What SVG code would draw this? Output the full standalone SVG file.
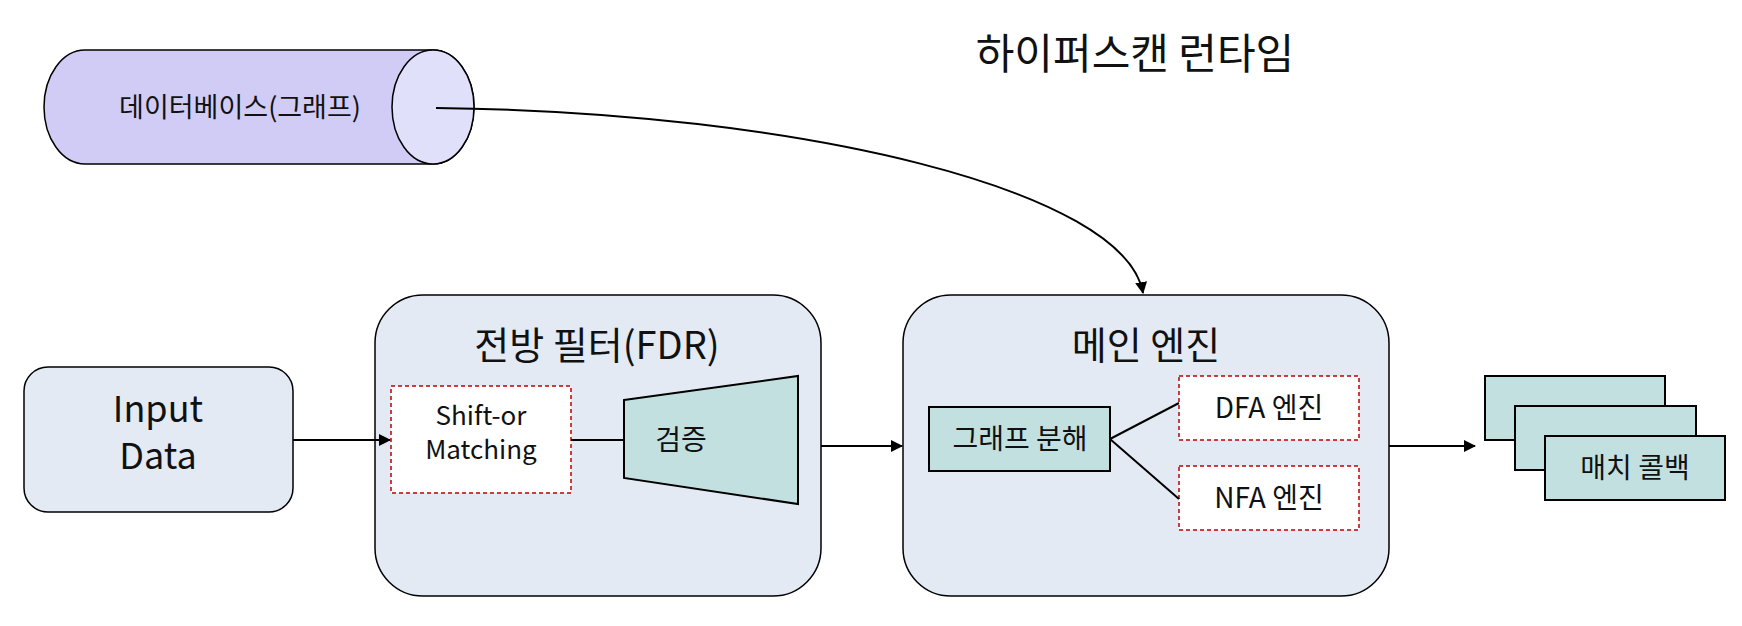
<svg xmlns="http://www.w3.org/2000/svg" width="1742" height="626" viewBox="0 0 1742 626">
<defs>
<marker id="ah" markerWidth="12" markerHeight="12" refX="11" refY="6" orient="auto" markerUnits="userSpaceOnUse" viewBox="0 0 12 12"><path d="M0,0 L12,6 L0,12 z" fill="#000"/></marker>
<style>
text{font-family:"Noto Sans CJK KR","Noto Sans",sans-serif;fill:#111;text-anchor:middle}
.big{fill:#e3eaf4;stroke:#000;stroke-width:1.5}
.teal{fill:#c2e0e0;stroke:#000;stroke-width:2}
.dash{fill:#fff;stroke:#c00000;stroke-width:1.5;stroke-dasharray:4 3}
.ln{stroke:#000;stroke-width:2;fill:none}
</style>
</defs>
<rect width="1742" height="626" fill="#fff"/>
<text x="1135" y="69" font-size="42">하이퍼스캔 런타임</text>
<g id="db">
<path d="M85,50 L433,50 A41,57 0 0 1 433,164 L85,164 A41,57 0 0 1 85,50 z" fill="#d0ccf5" stroke="#000" stroke-width="1.5"/>
<ellipse cx="433" cy="107" rx="41" ry="57" fill="#e0e0fa" stroke="#000" stroke-width="1.5"/>
<text x="240" y="117" font-size="27">데이터베이스(그래프)</text>
</g>
<g id="input">
<rect x="24" y="367" width="269" height="145" rx="24" class="big"/>
<text x="158" y="422" font-size="36">Input</text>
<text x="158" y="469" font-size="36">Data</text>
</g>
<g id="fdr">
<rect x="375" y="295" width="446" height="301" rx="48" class="big"/>
<text x="597" y="359" font-size="38">전방 필터(FDR)</text>
<rect x="391" y="386" width="180" height="107" class="dash"/>
<text x="481" y="425" font-size="26">Shift-or</text>
<text x="481" y="459" font-size="26">Matching</text>
<path d="M624,400 L798,376 L798,504 L624,478 z" class="teal" stroke-width="1.5"/>
<text x="681" y="450" font-size="28">검증</text>
</g>
<g id="main">
<rect x="903" y="295" width="486" height="301" rx="48" class="big"/>
<text x="1146" y="359" font-size="38">메인 엔진</text>
<rect x="929" y="407" width="181" height="64" class="teal"/>
<text x="1020" y="449" font-size="28">그래프 분해</text>
<rect x="1179" y="376" width="180" height="64" class="dash"/>
<text x="1269" y="418" font-size="28">DFA 엔진</text>
<rect x="1179" y="466" width="180" height="64" class="dash"/>
<text x="1269" y="508" font-size="28">NFA 엔진</text>
</g>
<g id="callback">
<rect x="1485" y="376" width="180" height="64" class="teal" stroke-width="1.5"/>
<rect x="1515" y="406" width="181" height="64" class="teal" stroke-width="1.5"/>
<rect x="1545" y="436" width="180" height="64" class="teal" stroke-width="1.5"/>
<text x="1635" y="478" font-size="28">매치 콜백</text>
</g>
<g id="connectors">
<path d="M436,108 C800,112 1125,190 1143,293" class="ln" marker-end="url(#ah)"/>
<path d="M293,440 L390,440" class="ln" marker-end="url(#ah)"/>
<path d="M571,440 L624,440" class="ln" stroke-width="1.5"/>
<path d="M821,446 L902,446" class="ln" marker-end="url(#ah)"/>
<path d="M1110,439 L1179,403 M1110,439 L1179,499" class="ln" stroke-width="1.5"/>
<path d="M1389,446 L1475,446" class="ln" marker-end="url(#ah)"/>
</g>
</svg>
